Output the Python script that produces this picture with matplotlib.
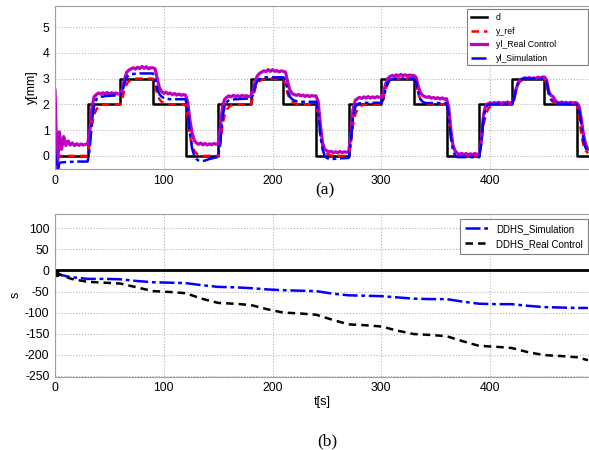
import numpy as np
import matplotlib
matplotlib.use("Agg")
import matplotlib.pyplot as plt
from matplotlib.patches import Rectangle

plt.rcParams["font.family"] = ["Liberation Sans", "DejaVu Sans"]
plt.rcParams["axes.unicode_minus"] = False

# ---- (a) tracking run, sampled every 2 s ----
t_top = np.arange(0, 491, 2)

# desired displacement d (level held from each switch time)
d_times = [0, 30, 60, 90, 120, 150, 180, 210, 240, 270, 300, 330, 360, 390, 420, 450, 480, 490]
d_levels = [0, 2, 3, 2, 0, 2, 3, 2, 0, 2, 3, 2, 0, 2, 3, 2, 0, 0]

y_ref = [
    0, 0, 0, 0, 0, 0, 0, 0, 0, 0, 0, 0, 0, 0, 0,
    0, 0.5, 1.2, 1.6, 1.8, 1.9, 1.96, 1.99, 2, 2, 2, 2, 2, 2, 2,
    2, 2.25, 2.6, 2.8, 2.9, 2.95, 2.98, 2.99, 3, 3, 3, 3, 3, 3, 3,
    3, 2.75, 2.4, 2.2, 2.1, 2.05, 2.02, 2.01, 2, 2, 2, 2, 2, 2, 2,
    2, 1.5, 0.8, 0.4, 0.2, 0.1, 0.04, 0.01, 0, 0, 0, 0, 0, 0, 0,
    0, 0.5, 1.2, 1.6, 1.8, 1.9, 1.96, 1.99, 2, 2, 2, 2, 2, 2, 2,
    2, 2.25, 2.6, 2.8, 2.9, 2.95, 2.98, 2.99, 3, 3, 3, 3, 3, 3, 3,
    3, 2.75, 2.4, 2.2, 2.1, 2.05, 2.02, 2.01, 2, 2, 2, 2, 2, 2, 2,
    2, 1.5, 0.8, 0.4, 0.2, 0.1, 0.04, 0.01, 0, 0, 0, 0, 0, 0, 0,
    0, 0.5, 1.2, 1.6, 1.8, 1.9, 1.96, 1.99, 2, 2, 2, 2, 2, 2, 2,
    2, 2.25, 2.6, 2.8, 2.9, 2.95, 2.98, 2.99, 3, 3, 3, 3, 3, 3, 3,
    3, 2.75, 2.4, 2.2, 2.1, 2.05, 2.02, 2.01, 2, 2, 2, 2, 2, 2, 2,
    2, 1.5, 0.8, 0.4, 0.2, 0.1, 0.04, 0.01, 0, 0, 0, 0, 0, 0, 0,
    0, 0.5, 1.2, 1.6, 1.8, 1.9, 1.96, 1.99, 2, 2, 2, 2, 2, 2, 2,
    2, 2.25, 2.6, 2.8, 2.9, 2.95, 2.98, 2.99, 3, 3, 3, 3, 3, 3, 3,
    3, 2.75, 2.4, 2.2, 2.1, 2.05, 2.02, 2.01, 2, 2, 2, 2, 2, 2, 2,
    2, 1.5, 0.8, 0.4, 0.2, 0.1,
]

yl_real = [
    2.55, -0.7, 0.93, 0.25, 0.75, 0.4, 0.58, 0.42, 0.5, 0.4, 0.47, 0.41, 0.46, 0.42, 0.45,
    0.45, 1.0, 1.9, 2.3, 2.38, 2.44, 2.4, 2.45, 2.41, 2.46, 2.4, 2.45, 2.41, 2.44, 2.4,
    2.42, 2.6, 3.0, 3.25, 3.33, 3.38, 3.42, 3.37, 3.44, 3.39, 3.47, 3.4, 3.46, 3.38, 3.42,
    3.42, 3.38, 3.0, 2.65, 2.5, 2.43, 2.47, 2.41, 2.44, 2.38, 2.42, 2.36, 2.4, 2.35, 2.38,
    2.36, 2.1, 1.4, 0.9, 0.6, 0.5, 0.45, 0.5, 0.43, 0.48, 0.42, 0.47, 0.43, 0.48, 0.45,
    0.47, 1.1, 1.9, 2.2, 2.28, 2.33, 2.29, 2.35, 2.3, 2.34, 2.29, 2.35, 2.31, 2.34, 2.3,
    2.33, 2.5, 2.9, 3.1, 3.2, 3.25, 3.3, 3.27, 3.35, 3.28, 3.35, 3.28, 3.31, 3.26, 3.3,
    3.28, 3.25, 2.85, 2.55, 2.42, 2.38, 2.35, 2.38, 2.33, 2.36, 2.31, 2.35, 2.3, 2.34, 2.32,
    2.33, 2.1, 1.2, 0.5, 0.25, 0.2, 0.15, 0.18, 0.12, 0.16, 0.12, 0.17, 0.13, 0.16, 0.14,
    0.15, 0.8, 1.8, 2.15, 2.22, 2.27, 2.23, 2.29, 2.25, 2.3, 2.24, 2.29, 2.25, 2.3, 2.27,
    2.28, 2.45, 2.8, 3.0, 3.08, 3.12, 3.09, 3.15, 3.1, 3.16, 3.11, 3.15, 3.1, 3.14, 3.12,
    3.12, 3.05, 2.7, 2.45, 2.35, 2.3, 2.27, 2.3, 2.24, 2.27, 2.22, 2.26, 2.21, 2.25, 2.2,
    2.22, 1.9, 1.0, 0.4, 0.18, 0.1, 0.06, 0.1, 0.05, 0.09, 0.04, 0.08, 0.05, 0.09, 0.06,
    0.07, 0.6, 1.6, 1.95, 2.02, 2.06, 2.03, 2.07, 2.04, 2.08, 2.03, 2.07, 2.05, 2.09, 2.06,
    2.06, 2.2, 2.6, 2.85, 2.95, 2.99, 3.03, 3.0, 3.04, 2.99, 3.03, 3.0, 3.05, 3.02, 3.06,
    3.06, 2.95, 2.5, 2.35, 2.3, 2.15, 2.08, 2.06, 2.09, 2.05, 2.08, 2.04, 2.08, 2.05, 2.07,
    2.05, 1.9, 1.4, 0.8, 0.45, 0.25,
]

yl_sim = [
    0.2, -0.7, -0.28, -0.25, -0.25, -0.24, -0.24, -0.23, -0.23, -0.23, -0.22, -0.22, -0.22, -0.22, -0.22,
    -0.22, 0.3, 1.4, 1.95, 2.2, 2.28, 2.3, 2.3, 2.32, 2.33, 2.33, 2.34, 2.34, 2.35, 2.35,
    2.36, 2.5, 2.85, 3.05, 3.13, 3.17, 3.18, 3.19, 3.2, 3.2, 3.2, 3.2, 3.2, 3.2, 3.2,
    3.2, 3.0, 2.6, 2.4, 2.3, 2.25, 2.22, 2.21, 2.2, 2.2, 2.2, 2.2, 2.2, 2.2, 2.2,
    2.2, 1.8, 0.9, 0.3, 0.0, -0.12, -0.18, -0.2, -0.2, -0.18, -0.15, -0.12, -0.1, -0.08, -0.06,
    -0.05, 0.5, 1.5, 1.95, 2.1, 2.15, 2.18, 2.19, 2.2, 2.2, 2.21, 2.21, 2.22, 2.22, 2.22,
    2.22, 2.35, 2.7, 2.9, 2.98, 3.02, 3.04, 3.05, 3.05, 3.05, 3.05, 3.05, 3.05, 3.05, 3.05,
    3.05, 2.9, 2.5, 2.3, 2.2, 2.15, 2.12, 2.11, 2.1, 2.1, 2.1, 2.1, 2.1, 2.1, 2.1,
    2.1, 1.7, 0.8, 0.25, 0.0, -0.08, -0.12, -0.12, -0.12, -0.11, -0.1, -0.1, -0.09, -0.09, -0.08,
    -0.08, 0.5, 1.5, 1.9, 2.0, 2.04, 2.05, 2.06, 2.06, 2.06, 2.06, 2.06, 2.06, 2.06, 2.06,
    2.06, 2.2, 2.6, 2.85, 2.95, 2.98, 2.99, 3.0, 3.0, 3.0, 3.0, 3.0, 3.0, 3.0, 3.0,
    3.0, 2.85, 2.45, 2.2, 2.1, 2.06, 2.05, 2.05, 2.05, 2.05, 2.05, 2.05, 2.05, 2.05, 2.05,
    2.05, 1.6, 0.7, 0.2, 0.0, -0.05, -0.05, -0.05, -0.05, -0.05, -0.05, -0.05, -0.05, -0.05, -0.05,
    -0.05, 0.5, 1.45, 1.85, 1.97, 2.0, 2.01, 2.02, 2.02, 2.02, 2.02, 2.02, 2.02, 2.02, 2.02,
    2.02, 2.2, 2.6, 2.85, 2.95, 2.99, 3.0, 3.0, 3.0, 3.0, 3.0, 3.0, 3.0, 3.0, 3.0,
    3.0, 2.85, 2.45, 2.2, 2.1, 2.05, 2.03, 2.02, 2.02, 2.02, 2.02, 2.02, 2.02, 2.02, 2.02,
    2.0, 1.8, 1.2, 0.6, 0.3, 0.15,
]

# ---- (b) DDHS index, sampled every 15 s ----
t_bot = [0, 15, 30, 45, 60, 75, 90, 105, 120, 135, 150, 165, 180, 195, 210, 225, 240,
         255, 270, 285, 300, 315, 330, 345, 360, 375, 390, 405, 420, 435, 450, 465, 480, 490]
ddhs_sim = [-8, -16, -20, -20, -21, -25, -28, -29, -30, -35, -39, -40, -42, -45, -47, -48, -49,
            -55, -59, -60, -61, -64, -67, -68, -68, -74, -79, -80, -80, -84, -87, -88, -89, -89]
ddhs_real = [-5, -20, -27, -29, -31, -40, -49, -51, -54, -67, -77, -79, -82, -92, -100, -102, -105,
             -117, -128, -130, -133, -143, -151, -153, -156, -168, -179, -181, -184, -194, -201, -203, -206, -213]

grid_kw = dict(color="#b4b4b4", linestyle=":", linewidth=0.8)
spine_col = "#a0a0a0"
dashdot = (0, (6, 1.5, 1.5, 1.5))
dashed = (0, (3, 2))

fig = plt.figure(figsize=(5.89, 4.5), dpi=100)
ax1 = fig.add_axes([0.0934, 0.6238, 0.9066, 0.3636])
ax2 = fig.add_axes([0.0934, 0.163, 0.9066, 0.3615])

ax1.plot(d_times, d_levels, drawstyle="steps-post", color="black", lw=1.8, label="d")
ax1.plot(t_top, y_ref, color="red", lw=1.8, linestyle=dashed, label="y_ref")
ax1.plot(t_top, yl_real, color="#bf00bf", lw=2.3, label="yl_Real Control")
ax1.plot(t_top, yl_sim, color="blue", lw=1.8, linestyle=dashdot, label="yl_Simulation")
ax1.set_xlim(0, 491)
ax1.set_ylim(-0.52, 5.83)
ax1.set_xticks([0, 100, 200, 300, 400])
ax1.set_yticks([0, 1, 2, 3, 4, 5])
ax1.set_ylabel("y[mm]", fontsize=9)
ax1.yaxis.set_label_coords(-0.032, 0.5)

# legend entries without frame; the wide box is drawn as its own patch
leg1 = ax1.legend(loc="upper left", bbox_to_anchor=(469 / 589, 1 - 11.5 / 450), bbox_transform=fig.transFigure,
                  borderaxespad=0, fontsize=6.3, labelspacing=0.52, handlelength=1.9,
                  handletextpad=1.0, borderpad=0.2, frameon=False)
leg1.set_zorder(6)
ax1.add_patch(Rectangle((467 / 589, 1 - 65 / 450), 121 / 589, 56 / 450, transform=fig.transFigure,
                        facecolor="white", edgecolor="#808080", lw=0.8, zorder=5, clip_on=False))

ax2.axhline(0, color="black", lw=2)
ax2.plot(t_bot, ddhs_sim, color="blue", lw=1.8, linestyle=dashdot, label="DDHS_Simulation")
ax2.plot(t_bot, ddhs_real, color="black", lw=1.8, linestyle=dashed, label="DDHS_Real Control")
ax2.plot(t_bot[0], ddhs_real[0], marker="s", color="black", ms=4)
ax2.set_xlim(0, 491)
ax2.set_ylim(-252, 134)
ax2.set_xticks([0, 100, 200, 300, 400])
ax2.set_yticks([100, 50, 0, -50, -100, -150, -200, -250])
ax2.set_xlabel("t[s]", fontsize=9, labelpad=1)
ax2.set_ylabel("s", fontsize=9)
ax2.yaxis.set_label_coords(-0.062, 0.5)
leg2 = ax2.legend(loc="upper right", bbox_to_anchor=(0.9976, 0.5133), bbox_transform=fig.transFigure,
                  borderaxespad=0, fontsize=7, labelspacing=0.5, handlelength=2.4,
                  handletextpad=0.8, borderpad=0.5, fancybox=False, framealpha=1)
leg2.get_frame().set_edgecolor("#808080")
leg2.get_frame().set_linewidth(0.8)

for ax in (ax1, ax2):
    ax.grid(True, **grid_kw)
    ax.tick_params(length=0, labelsize=8.8, pad=4)
    for side in ("top", "left", "bottom"):
        ax.spines[side].set_color(spine_col)
    ax.spines["right"].set_visible(False)

fig.text(0.552, 1 - 190 / 450, "(a)", ha="center", va="center", fontsize=12.5, family="Liberation Serif")
fig.text(0.555, 1 - 441 / 450, "(b)", ha="center", va="center", fontsize=12.5, family="Liberation Serif")

fig.savefig("out.png", dpi=100)
